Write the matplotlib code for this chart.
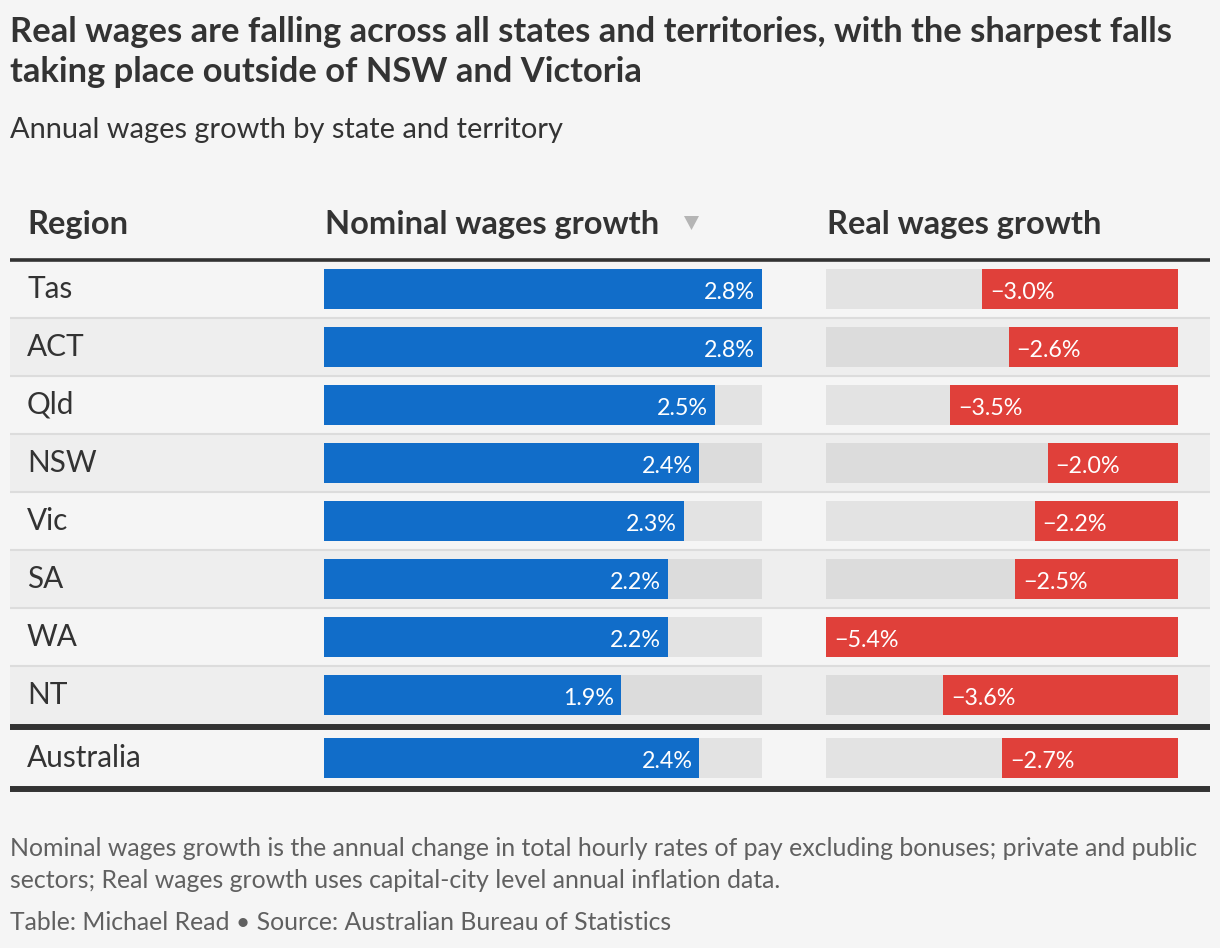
import numpy as np
import matplotlib.pyplot as plt
from matplotlib.patches import Rectangle, Polygon
from matplotlib.transforms import offset_copy

##### DATA #####
regions = ['Tas', 'ACT', 'Qld', 'NSW', 'Vic', 'SA', 'WA', 'NT', 'Australia']
nominal = [2.8, 2.8, 2.5, 2.4, 2.3, 2.2, 2.2, 1.9, 2.4]
real = [-3.0, -2.6, -3.5, -2.0, -2.2, -2.5, -5.4, -3.6, -2.7]

headers = ['Region', 'Nominal wages growth', 'Real wages growth']
title_lines = ['Real wages are falling across all states and territories, with the sharpest falls',
               'taking place outside of NSW and Victoria']
subtitle = 'Annual wages growth by state and territory'
notes = ['Nominal wages growth is the annual change in total hourly rates of pay excluding bonuses; private and public',
         'sectors; Real wages growth uses capital-city level annual inflation data.']
credit = 'Table: Michael Read \u2022 Source: Australian Bureau of Statistics'

##### STYLE #####
plt.rcParams['font.family'] = ['Lato', 'DejaVu Sans']
BG = '#f5f5f5'
BG_ALT = '#eeeeee'
DARK = '#333333'
BLUE = '#116dc9'
RED = '#e0403a'
W, H = 1220, 948

fig = plt.figure(figsize=(W / 100, H / 100), dpi=100, facecolor=BG)
ax = fig.add_axes([0, 0, 1, 1])
ax.set_xlim(0, W)
ax.set_ylim(H, 0)
ax.axis('off')
renderer = fig.canvas.get_renderer()


def fit_text(x, y, s, target_w, **kw):
    # size the text so that it spans target_w pixels
    t = ax.text(x, y, s, fontsize=20, **kw)
    w = t.get_window_extent(renderer).width
    t.set_fontsize(20 * target_w / w)
    return t.get_fontsize()


# row layout (pixels)
n_states = len(regions) - 1
row_h = 58
centers = [289 + row_h * i for i in range(n_states)] + [758]

# alternating row shading and separators
for i in range(n_states):
    top = 260 + row_h * i
    if i % 2 == 1:
        ax.add_patch(Rectangle((10, top), 1200, row_h, color=BG_ALT, lw=0, zorder=0))
    if i < n_states - 1:
        ax.hlines(top + row_h, 10, 1210, color='#dcdcdc', lw=1.5, zorder=1)

ax.hlines(260, 10, 1210, color=DARK, lw=2.6, zorder=2)
ax.hlines(727, 10, 1210, color=DARK, lw=4.3, zorder=2)
ax.hlines(789, 10, 1210, color=DARK, lw=4.3, zorder=2)

##### TEXT #####
fs = fit_text(10, 42, title_lines[0], 1160, fontweight='bold', color=DARK, va='baseline')
ax.text(10, 82, title_lines[1], fontsize=fs, fontweight='bold', color=DARK, va='baseline')
fit_text(10, 138, subtitle, 555, color=DARK, va='baseline')

hs = fit_text(325, 234, headers[1], 334, fontweight='bold', color=DARK, va='baseline')
ax.text(27, 234, headers[0], fontsize=hs, fontweight='bold', color=DARK, va='baseline')
ax.text(827, 234, headers[2], fontsize=hs, fontweight='bold', color=DARK, va='baseline')
ax.add_patch(Polygon([[684, 216], [699, 216], [691.5, 230]], closed=True, color='#b5b5b5', lw=0))

rs = fit_text(27, centers[-1] + 9, regions[-1], 115, color=DARK, va='baseline')
for name, c in zip(regions[:-1], centers[:-1]):
    ax.text(27, c + 9, name, fontsize=rs, color=DARK, va='baseline')

ns = fit_text(10, 856, notes[0], 1194, color='#606060', va='baseline')
ax.text(10, 888, notes[1], fontsize=ns, color='#606060', va='baseline')
fit_text(10, 930, credit, 663, color='#606060', va='baseline')

# value label size
probe = ax.text(0, 0, '2.8%', fontsize=20)
vs = 20 * 51 / probe.get_window_extent(renderer).width
probe.remove()

##### BARS #####
track = ['#e3e3e3' if i % 2 == 0 or i == n_states else '#dcdcdc' for i in range(len(regions))]

ax_n = fig.add_axes([324 / W, 0, 438 / W, 1])
ax_n.set_xlim(0, max(nominal))
ax_n.set_ylim(H, 0)
ax_n.axis('off')
ax_n.barh(centers, [max(nominal)] * len(regions), height=40, color=track, lw=0)
ax_n.barh(centers, nominal, height=40, color=BLUE, lw=0)
tr_n = offset_copy(ax_n.transData, fig=fig, x=-7, y=0, units='dots')
for v, c in zip(nominal, centers):
    ax_n.text(v, c + 10, f'{v:.1f}%', fontsize=vs, color='white', ha='right', va='baseline', transform=tr_n)

ax_r = fig.add_axes([826 / W, 0, 352 / W, 1])
ax_r.set_xlim(min(real), 0)
ax_r.set_ylim(H, 0)
ax_r.axis('off')
ax_r.barh(centers, [min(real)] * len(regions), height=40, color=track, lw=0)
ax_r.barh(centers, real, height=40, color=RED, lw=0)
tr_r = offset_copy(ax_r.transData, fig=fig, x=8, y=0, units='dots')
for v, c in zip(real, centers):
    ax_r.text(v, c + 10, f'\u2212{abs(v):.1f}%', fontsize=vs, color='white', ha='left', va='baseline', transform=tr_r)

plt.savefig('out.png', dpi=100, facecolor=BG)
